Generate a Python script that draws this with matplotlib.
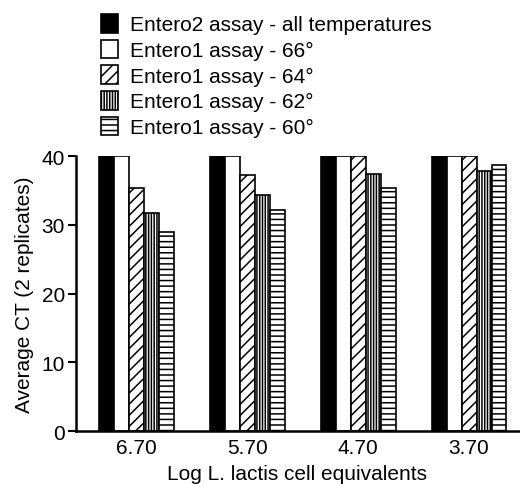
import matplotlib
matplotlib.use("Agg")
import matplotlib.pyplot as plt
import numpy as np

plt.rcParams['font.family'] = ['Liberation Sans', 'DejaVu Sans']
plt.rcParams['hatch.linewidth'] = 1.1

categories = ['6.70', '5.70', '4.70', '3.70']
series_labels = ['Entero2 assay - all temperatures',
                 'Entero1 assay - 66\u00b0',
                 'Entero1 assay - 64\u00b0',
                 'Entero1 assay - 62\u00b0',
                 'Entero1 assay - 60\u00b0']
entero2_all = [40, 40, 40, 40]
entero1_66 = [40, 40, 40, 40]
entero1_64 = [35.3, 37.2, 40, 40]
entero1_62 = [31.8, 34.4, 37.4, 37.8]
entero1_60 = [28.9, 32.2, 35.4, 38.7]

series = [entero2_all, entero1_66, entero1_64, entero1_62, entero1_60]
faces = ['black', 'white', 'white', 'white', 'white']
hatches = [None, None, '///', '||||||', '---']

fig = plt.figure(figsize=(5.2, 4.85), dpi=100)
ax = fig.add_axes([0.146, 0.109, 0.852, 0.567])

x = np.arange(len(categories))
w = 0.135
handles = []
for i, (vals, fc, h) in enumerate(zip(series, faces, hatches)):
    b = ax.bar(x + (i - 2) * w, vals, w, color=fc, edgecolor='black',
               linewidth=1.2, hatch=h, label=series_labels[i])
    handles.append(b)

ax.set_xlim(-0.55, 3.45)
ax.set_ylim(0, 40)
ax.set_yticks([0, 10, 20, 30, 40])
ax.set_xticks(x)
ax.set_xticklabels(categories)
ax.tick_params(axis='x', length=0, labelsize=15, pad=5)
ax.tick_params(axis='y', length=6, width=1.5, labelsize=15, pad=2)
for s in ['top', 'right']:
    ax.spines[s].set_visible(False)
for s in ['left', 'bottom']:
    ax.spines[s].set_linewidth(1.8)
ax.set_ylabel('Average CT (2 replicates)', fontsize=15, labelpad=5)
ax.set_xlabel('Log L. lactis cell equivalents', fontsize=15, labelpad=5)

fig.legend(handles=handles, labels=series_labels, loc='upper left',
           bbox_to_anchor=(101 / 520, 1 - 15 / 485), frameon=False,
           fontsize=15, handlelength=0.82, handleheight=1.0,
           handletextpad=0.55, labelspacing=0.25, borderpad=0,
           borderaxespad=0)

fig.savefig('out.png', dpi=100)
